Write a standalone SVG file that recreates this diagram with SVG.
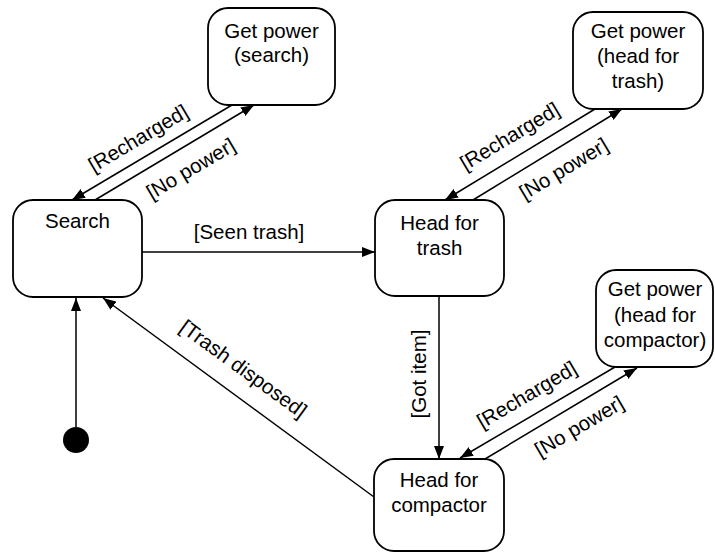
<svg xmlns="http://www.w3.org/2000/svg" width="715" height="554" viewBox="0 0 715 554">
<style>
.box{fill:#fff;stroke:#000;stroke-width:1.8}
.t{font-family:"Liberation Sans",Arial,sans-serif;font-size:20.5px;fill:#000;text-anchor:middle}
.c{fill:none;stroke:#000;stroke-width:1.5}
</style>
<defs>
<marker id="ah" markerWidth="14" markerHeight="10" refX="13" refY="5" orient="auto" markerUnits="userSpaceOnUse">
<path d="M0,0 L13,5 L0,10 Z" fill="#000"/>
</marker>
</defs>
<rect width="715" height="554" fill="#fff"/>
<g id="connectors">
<line class="c" x1="232" y1="105" x2="72" y2="200" marker-end="url(#ah)"/>
<line class="c" x1="95" y1="200" x2="254" y2="105" marker-end="url(#ah)"/>
<line class="c" x1="142" y1="252" x2="375" y2="252" marker-end="url(#ah)"/>
<line class="c" x1="595" y1="109" x2="445" y2="200" marker-end="url(#ah)"/>
<line class="c" x1="473" y1="200" x2="622" y2="109" marker-end="url(#ah)"/>
<line class="c" x1="439" y1="296" x2="439" y2="459" marker-end="url(#ah)"/>
<line class="c" x1="615" y1="367" x2="460" y2="458" marker-end="url(#ah)"/>
<line class="c" x1="485" y1="459" x2="637" y2="368" marker-end="url(#ah)"/>
<line class="c" x1="374" y1="497" x2="103" y2="298" marker-end="url(#ah)"/>
<line class="c" x1="76" y1="427" x2="76" y2="298" marker-end="url(#ah)"/>
<text class="t" transform="translate(139,139.5) rotate(-30.7)" y="5.5">[Recharged]</text>
<text class="t" transform="translate(191.5,170) rotate(-30.7)" y="5.5">[No power]</text>
<text class="t" x="249" y="239">[Seen trash]</text>
<text class="t" transform="translate(510.5,137.5) rotate(-31)" y="5.5">[Recharged]</text>
<text class="t" transform="translate(564.5,170) rotate(-31)" y="5.5">[No power]</text>
<text class="t" transform="translate(420,374) rotate(-90)" y="5.5">[Got item]</text>
<text class="t" transform="translate(527.5,396) rotate(-30.5)" y="5.5">[Recharged]</text>
<text class="t" transform="translate(580,427.5) rotate(-30.5)" y="5.5">[No power]</text>
<text class="t" transform="translate(242.5,370) rotate(36)" y="5.5">[Trash disposed]</text>
</g>
<g id="getpower-search">
<rect class="box" x="208" y="8" width="127" height="97" rx="20"/>
<text class="t" x="271.5" y="37.5">Get power</text>
<text class="t" x="271.5" y="62">(search)</text>
</g>
<g id="search">
<rect class="box" x="13" y="200" width="129" height="97" rx="20"/>
<text class="t" x="77.5" y="228">Search</text>
</g>
<g id="headfortrash">
<rect class="box" x="375" y="200" width="129" height="96" rx="20"/>
<text class="t" x="439.5" y="230">Head for</text>
<text class="t" x="439.5" y="255">trash</text>
</g>
<g id="getpower-trash">
<rect class="box" x="573" y="12" width="130" height="97" rx="20"/>
<text class="t" x="638" y="38">Get power</text>
<text class="t" x="638" y="63">(head for</text>
<text class="t" x="638" y="88">trash)</text>
</g>
<g id="getpower-compactor">
<rect class="box" x="596" y="270" width="117" height="97" rx="20"/>
<text class="t" x="655" y="296">Get power</text>
<text class="t" x="655" y="321.5">(head for</text>
<text class="t" x="655" y="347">compactor)</text>
</g>
<g id="headforcompactor">
<rect class="box" x="374" y="459" width="130" height="92" rx="20"/>
<text class="t" x="439" y="487">Head for</text>
<text class="t" x="439" y="512">compactor</text>
</g>
<g id="initial">
<circle cx="76" cy="440" r="13" fill="#000"/>
</g>
</svg>
